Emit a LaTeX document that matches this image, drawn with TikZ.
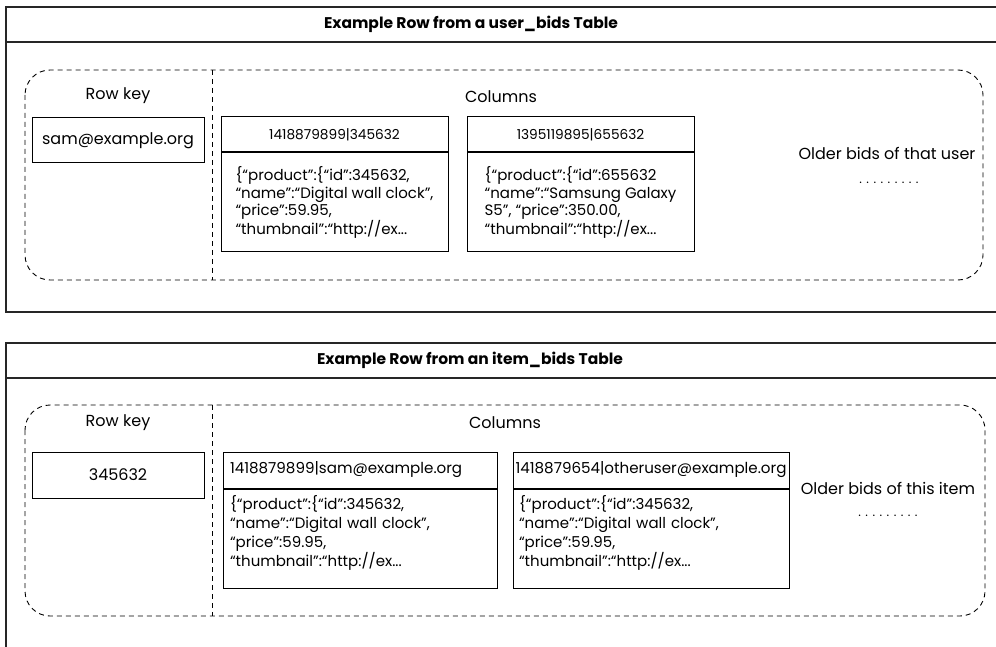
\documentclass[tikz,border=0pt]{standalone}
\usepackage{fontspec}
\setmainfont{Poppins}
\begin{document}
\begin{tikzpicture}[x=1pt,y=-1pt,
  frame/.style={line width=1.5pt, draw=black!85},
  dashbox/.style={line width=0.9pt, dash pattern=on 5pt off 4pt},
  titletext/.style={font=\fontsize{15.5}{18}\selectfont\bfseries, inner sep=0pt},
  lab/.style={font=\fontsize{16}{19}\selectfont, inner sep=0pt},
  keybox/.style={draw, line width=1pt, minimum width=172pt, minimum height=45pt, inner sep=0pt, font=\fontsize{16}{19}\selectfont},
  hdr/.style={draw, line width=1pt, minimum height=35pt, inner sep=0pt, font=\fontsize{13.7}{15}\selectfont},
  hdrb/.style={hdr, minimum height=36pt, font=\fontsize{15.1}{17}\selectfont},
  body/.style={draw, line width=1pt, minimum height=99pt, inner sep=0pt, align=left, font=\fontsize{15}{17.5}\selectfont},
  bodyl/.style={body, inner xsep=7pt, anchor=north, font=\fontsize{15}{19}\selectfont},
  dots/.style={font=\fontsize{12.5}{15}\selectfont, inner sep=0pt}
]
\useasboundingbox (0,0) rectangle (996,647);

% ---------- top panel ----------
\coordinate (f1a) at (996,7);
\coordinate (f1b) at (6,7);
\coordinate (f1c) at (6,312);
\coordinate (f1d) at (996,312);
\coordinate (s1a) at (6,42);
\coordinate (s1b) at (996,42);
\draw[frame] (f1a) -- (f1b) -- (f1c) -- (f1d);
\draw[frame] (s1a) -- (s1b);
\node[titletext] (t1) at (471,24) {Example Row from a user\_bids Table};

\coordinate (r1a) at (25,70);
\coordinate (r1b) at (983,280);
\draw[dashbox, rounded corners=25pt] (r1a) rectangle (r1b);
\coordinate (d1t) at (212,70);
\coordinate (d1b) at (212,280);
\draw[dashbox] (d1t) -- (d1b);

\node[lab] (rk1) at (118,96) {Row key};
\node[keybox] (k1) at (118,140.5) {sam@example.org};
\node[lab] (c1) at (501,97) {Columns};

\node[hdr, minimum width=227pt] (h11) at (334.5,134.5) {1418879899|345632};
\node[body, minimum width=227pt, anchor=north] (b11) at (h11.south) {\{“product”:\{“id”:345632,\\“name”:“Digital wall clock”,\\“price”:59.95,\\“thumbnail”:“http://ex...};

\node[hdr, minimum width=227pt] (h12) at (580.5,134.5) {1395119895|655632};
\node[body, minimum width=227pt, anchor=north] (b12) at (h12.south) {\{“product”:\{“id”:655632\\“name”:“Samsung Galaxy\\S5”, “price”:350.00,\\“thumbnail”:“http://ex...};

\node[lab] (o1) at (887,153) {Older bids of that user};
\node[dots] (od1) at (889,183) {. . . . . . . . .};

% ---------- bottom panel ----------
\coordinate (f2a) at (996,343);
\coordinate (f2b) at (6,343);
\coordinate (f2c) at (6,647);
\coordinate (s2a) at (6,378);
\coordinate (s2b) at (996,378);
\draw[frame] (f2a) -- (f2b) -- (f2c);
\draw[frame] (s2a) -- (s2b);
\node[titletext] (t2) at (470,360) {Example Row from an item\_bids Table};

\coordinate (r2a) at (25,405);
\coordinate (r2b) at (985,616);
\draw[dashbox, rounded corners=25pt] (r2a) rectangle (r2b);
\coordinate (d2t) at (212,405);
\coordinate (d2b) at (212,616);
\draw[dashbox] (d2t) -- (d2b);

\node[lab] (rk2) at (118,423) {Row key};
\node[keybox, minimum height=46pt] (k2) at (118,475) {345632};
\node[lab] (c2) at (505,423) {Columns};

\node[hdrb, minimum width=274pt, inner xsep=7pt, text width=260pt, align=left] (h21) at (360,470) {1418879899|sam@example.org};
\node[bodyl, minimum width=274pt, text width=260pt] (b21) at (h21.south) {\{“product”:\{“id”:345632,\\“name”:“Digital wall clock”,\\“price”:59.95,\\“thumbnail”:“http://ex...\rule[-15pt]{0pt}{0pt}};

\node[hdrb, minimum width=276pt] (h22) at (651,470) {1418879654|otheruser@example.org};
\node[bodyl, minimum width=276pt, text width=264pt, inner xsep=6pt] (b22) at (h22.south) {\{“product”:\{“id”:345632,\\“name”:“Digital wall clock”,\\“price”:59.95,\\“thumbnail”:“http://ex...\rule[-15pt]{0pt}{0pt}};

\node[lab] (o2) at (888,488) {Older bids of this item};
\node[dots] (od2) at (888,516) {. . . . . . . . .};
\end{tikzpicture}
\end{document}
